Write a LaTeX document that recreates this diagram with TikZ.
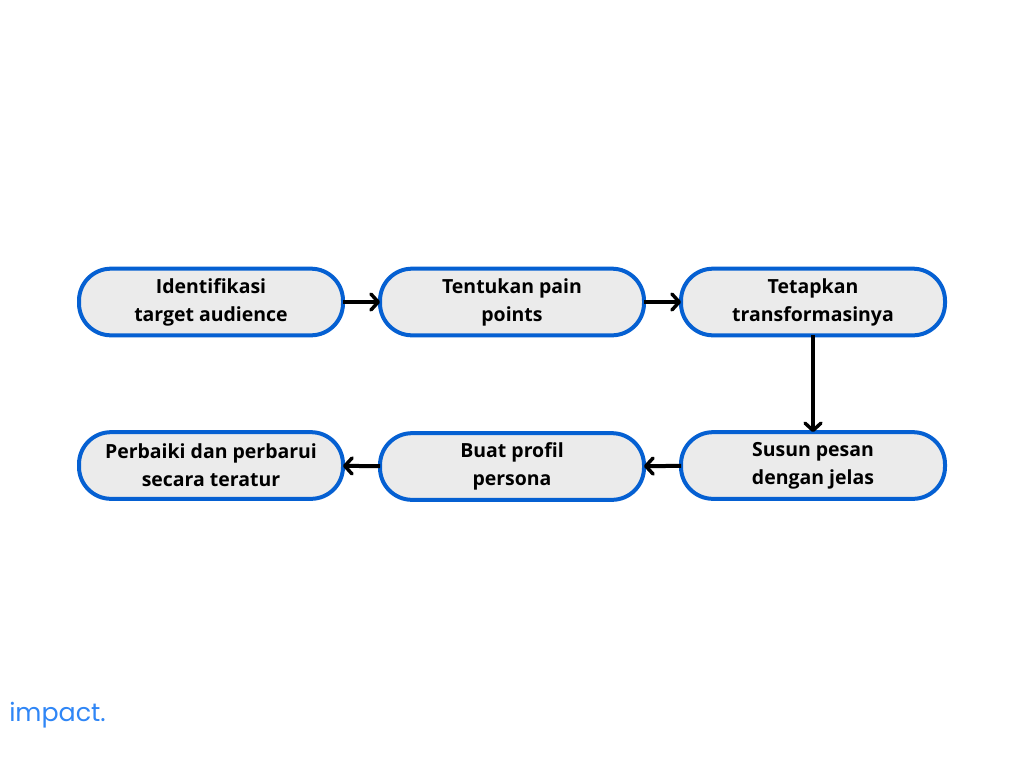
\documentclass[tikz,border=0pt]{standalone}
\usepackage{fontspec}
\setmainfont{Open Sans}
\newfontfamily\logofont{Poppins}
\usetikzlibrary{arrows.meta}
\definecolor{boxblue}{HTML}{0560D2}
\definecolor{boxfill}{HTML}{EBEBEB}
\definecolor{logoblue}{HTML}{2F86F6}
\tikzset{
  x=0.75pt,y=-0.75pt,
  pill/.style={draw=boxblue,fill=boxfill,line width=3pt,rounded corners=24pt,
    minimum width=198pt,minimum height=50pt,inner sep=0pt,outer sep=0pt,
    align=center,font=\fontsize{14.6pt}{21pt}\selectfont\bfseries,text=black},
  flow/.style={draw=black,line width=3pt,
    -{Straight Barb[length=5.5pt,width=12pt,line width=2.6pt,round]}}
}
\begin{document}
\begin{tikzpicture}
\useasboundingbox (0,0) rectangle (1024,768);
\fill[white] (0,0) rectangle (1024,768);
\node[pill] (a) at (211,302) {Identifikasi\\target audience};
\node[pill] (b) at (512,302) {Tentukan pain\\points};
\node[pill] (c) at (813,302) {Tetapkan\\transformasinya};
\node[pill] (d) at (813,465.5) {Susun pesan\\dengan jelas};
\node[pill] (e) at (512,466.5) {Buat profil\\persona};
\node[pill] (f) at (211,465.5) {Perbaiki dan perbarui\\secara teratur};
\draw[flow] (a) -- (b);
\draw[flow] (b) -- (c);
\draw[flow] (c) -- (d);
\draw[flow] (d) -- (e);
\draw[flow] (e) -- (f);
\node[anchor=base west,inner sep=0pt,text=logoblue,font=\logofont\fontsize{19pt}{22pt}\selectfont] (logo) at (9,721) {impact.};
\end{tikzpicture}
\end{document}
